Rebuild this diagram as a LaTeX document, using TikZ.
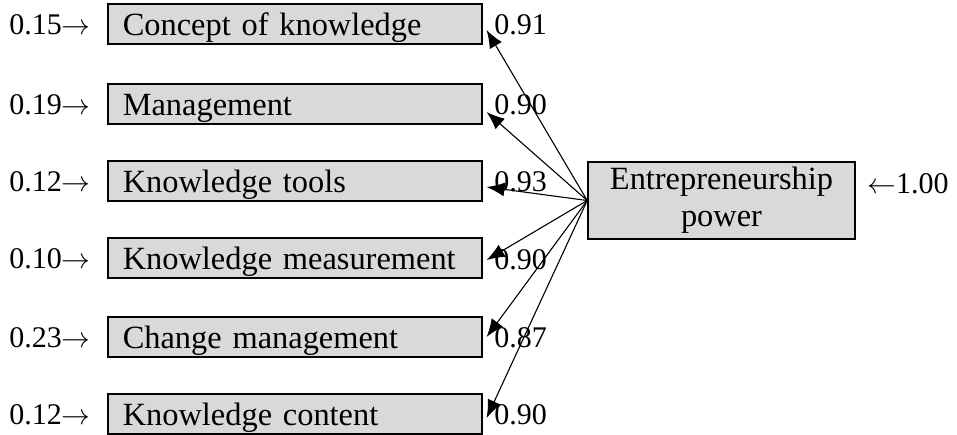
\documentclass[tikz,border=0pt]{standalone}
\usepackage{fontspec}
\setmainfont{Liberation Serif}
\usetikzlibrary{arrows,arrows.meta,positioning}

\begin{document}
\begin{tikzpicture}[x=0.5pt,y=-0.5pt]
  \useasboundingbox (0,0) rectangle (957,434);

  \tikzstyle{BoxStyle}=[draw,line width=0.8pt,fill=black!15,anchor=west,
    minimum height=20pt,text width=172pt,inner xsep=7.5pt,inner ysep=0pt,
    text height=12pt,text depth=1pt,align=left,font=\fontsize{16.2}{19}\selectfont]
  \tikzstyle{PowerStyle}=[draw,line width=0.8pt,fill=black!15,
    minimum width=133.5pt,minimum height=38.5pt,inner sep=0pt,align=center,
    font=\fontsize{16.2}{18.5}\selectfont]
  \tikzstyle{NumStyle}=[inner sep=0pt,font=\fontsize{15}{18}\selectfont]
  \tikzstyle{EdgeStyle}=[-{Latex[length=9pt,width=7pt]},line width=0.55pt]

  \node[BoxStyle] (a) at (107,24) {Concept of knowledge};
  \node[BoxStyle] (b) at (107,104) {Management};
  \node[BoxStyle] (c) at (107,181) {Knowledge tools};
  \node[BoxStyle] (d) at (107,258) {Knowledge measurement};
  \node[BoxStyle] (e) at (107,337) {Change management};
  \node[BoxStyle] (f) at (107,414) {Knowledge content};

  \node[PowerStyle] (p) at (721.5,200.5) {Entrepreneurship\\power};

  % error terms
  \node[NumStyle,anchor=east] (ea) at (91,25) {0.15$\rightarrow$};
  \node[NumStyle,anchor=east] (eb) at (91,105) {0.19$\rightarrow$};
  \node[NumStyle,anchor=east] (ec) at (91,182) {0.12$\rightarrow$};
  \node[NumStyle,anchor=east] (ed) at (91,259) {0.10$\rightarrow$};
  \node[NumStyle,anchor=east] (ee) at (91,338) {0.23$\rightarrow$};
  \node[NumStyle,anchor=east] (ef) at (91,415) {0.12$\rightarrow$};
  \node[NumStyle,anchor=west] (ep) at (867,184) {$\leftarrow$1.00};

  % loadings
  \draw[EdgeStyle] (p.west) -- ([xshift=2pt,yshift=-3pt]a.east);
  \draw[EdgeStyle] (p.west) -- ([xshift=2pt,yshift=-4pt]b.east);
  \draw[EdgeStyle] (p.west) -- ([xshift=2pt,yshift=-3pt]c.east);
  \draw[EdgeStyle] (p.west) -- ([xshift=2pt,yshift=-1pt]d.east);
  \draw[EdgeStyle] (p.west) -- ([xshift=2pt]e.east);
  \draw[EdgeStyle] (p.west) -- ([xshift=2pt,yshift=-2pt]f.east);

  \node[NumStyle,anchor=west] (la) at (494,25) {0.91};
  \node[NumStyle,anchor=west] (lb) at (494,105) {0.90};
  \node[NumStyle,anchor=west] (lc) at (494,182) {0.93};
  \node[NumStyle,anchor=west] (ld) at (494,260) {0.90};
  \node[NumStyle,anchor=west] (le) at (494,338) {0.87};
  \node[NumStyle,anchor=west] (lf) at (494,415) {0.90};
\end{tikzpicture}
\end{document}
